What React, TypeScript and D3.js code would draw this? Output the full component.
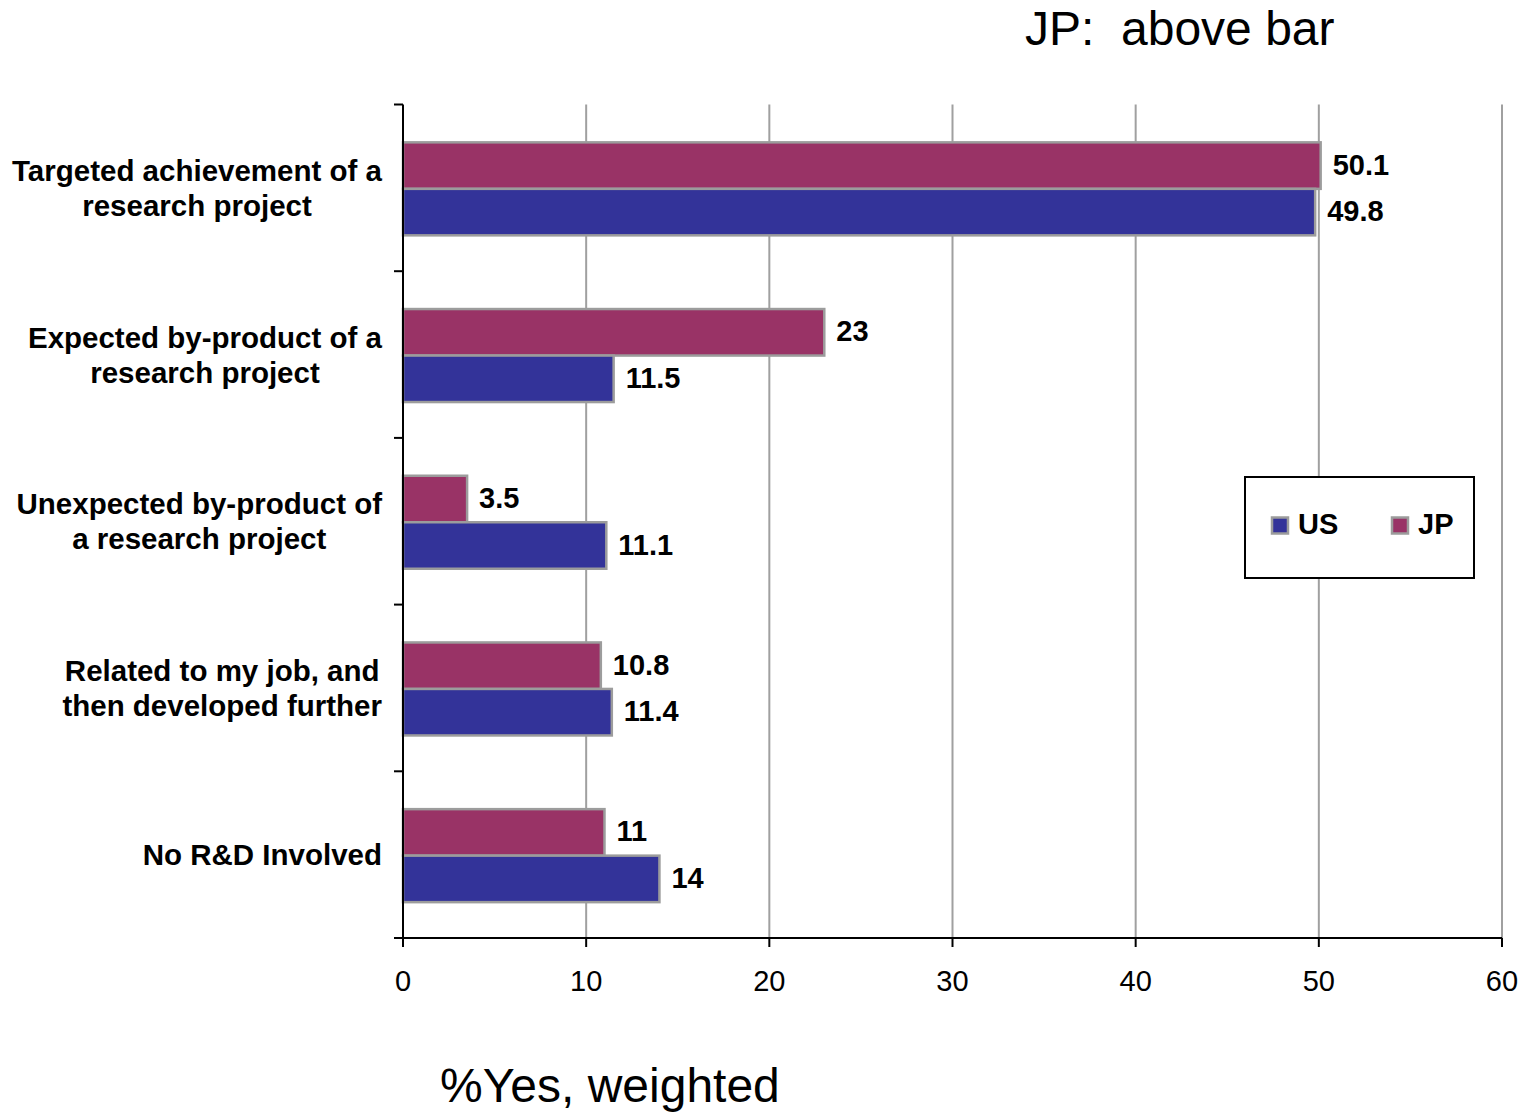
import React, { useEffect, useRef } from 'react';
import * as d3 from 'd3';

// categories, each as the lines it is printed on
const categories: string[][] = [
  ['Targeted achievement of a', 'research project'],
  ['Expected by-product of a', 'research project'],
  ['Unexpected by-product of', 'a research project'],
  ['Related to my job, and', 'then developed further'],
  ['No R&D Involved'],
];
const usValues = [49.8, 11.5, 11.1, 11.4, 14];
const jpValues = [50.1, 23, 3.5, 10.8, 11];
const xTicks = [0, 10, 20, 30, 40, 50, 60];
const seriesNames = ['US', 'JP'];

const US_COLOR = '#333399';
const JP_COLOR = '#993366';
const FONT = '"Liberation Sans", Arial, sans-serif';

const W = 1532;
const H = 1112;

const App: React.FC = () => {
  const svgRef = useRef<SVGSVGElement>(null);

  useEffect(() => {
    if (!svgRef.current) return;
    const svg = d3.select(svgRef.current);
    svg.selectAll('*').remove();

    const left = 403;
    const right = 1502;
    const top = 104.5;
    const bottom = 938;

    const x = d3.scaleLinear().domain([0, 60]).range([left, right]);
    const keys = categories.map((c, i) => String(i));
    const y = d3.scaleBand<string>().domain(keys).range([top, bottom]).padding(0);
    const bh = 46.5;

    // Grid lines
    svg.append('g')
      .selectAll('line')
      .data(xTicks.filter(d => d > 0))
      .enter().append('line')
      .attr('x1', d => x(d)).attr('x2', d => x(d))
      .attr('y1', top).attr('y2', bottom)
      .attr('stroke', '#a0a0a0')
      .attr('stroke-width', 2);

    // Bars
    const groups = svg.append('g')
      .selectAll('g')
      .data(keys)
      .enter().append('g')
      .attr('transform', d => `translate(0,${(y(d) || 0) + (y.bandwidth() - 2 * bh) / 2 + 1})`);

    groups.each(function (k, i) {
      const g = d3.select(this);
      const rows = [
        { v: jpValues[i], c: JP_COLOR, off: 0 },
        { v: usValues[i], c: US_COLOR, off: bh },
      ];
      rows.forEach(r => {
        g.append('rect')
          .attr('x', x(0))
          .attr('y', r.off)
          .attr('width', x(r.v) - x(0))
          .attr('height', bh)
          .attr('fill', r.c)
          .attr('stroke', '#9c9c9c')
          .attr('stroke-width', 2.5);
        g.append('text')
          .attr('x', x(r.v) + 12)
          .attr('y', r.off + bh / 2 - 1)
          .attr('dominant-baseline', 'central')
          .style('font-family', FONT)
          .style('font-weight', 'bold')
          .style('font-size', '29px')
          .style('fill', '#000')
          .text(String(r.v));
      });
    });

    // Axes
    const axis = svg.append('g').attr('stroke', '#000').attr('stroke-width', 2);
    axis.append('line').attr('x1', left).attr('x2', left).attr('y1', top).attr('y2', bottom);
    axis.append('line').attr('x1', left - 9).attr('x2', right).attr('y1', bottom).attr('y2', bottom);
    // y ticks at category boundaries
    const bounds = keys.map(k => y(k) || 0).concat([bottom]);
    axis.selectAll('.yt')
      .data(bounds)
      .enter().append('line')
      .attr('class', 'yt')
      .attr('x1', left - 9).attr('x2', left)
      .attr('y1', d => d).attr('y2', d => d);
    // x ticks
    axis.selectAll('.xt')
      .data(xTicks)
      .enter().append('line')
      .attr('class', 'xt')
      .attr('x1', d => x(d)).attr('x2', d => x(d))
      .attr('y1', bottom).attr('y2', bottom + 9);

    svg.append('g')
      .selectAll('text')
      .data(xTicks)
      .enter().append('text')
      .attr('x', d => x(d))
      .attr('y', 991)
      .attr('text-anchor', 'middle')
      .style('font-family', FONT)
      .style('font-size', '29px')
      .style('fill', '#000')
      .text(d => String(d));

    // Category labels: block right-aligned, lines centred within block
    const labelRight = 382;
    const lineGap = 35;
    categories.forEach((lines, i) => {
      const cy = (y(String(i)) || 0) + y.bandwidth() / 2;
      const g = svg.append('g');
      const texts = lines.map((ln, j) =>
        g.append('text')
          .attr('y', cy + 10.5 + (j - (lines.length - 1) / 2) * lineGap)
          .attr('text-anchor', 'middle')
          .style('font-family', FONT)
          .style('font-weight', 'bold')
          .style('font-size', '29.5px')
          .style('fill', '#000')
          .text(ln)
      );
      const maxW = d3.max(texts, t => (t.node() as SVGTextElement).getComputedTextLength()) || 0;
      texts.forEach(t => t.attr('x', labelRight - maxW / 2));
    });

    // Legend
    const lg = svg.append('g');
    lg.append('rect')
      .attr('x', 1245).attr('y', 477)
      .attr('width', 229).attr('height', 101)
      .attr('fill', '#fff')
      .attr('stroke', '#000')
      .attr('stroke-width', 2);
    const legendX = [1272, 1392];
    const legendColors = [US_COLOR, JP_COLOR];
    seriesNames.forEach((name, i) => {
      lg.append('rect')
        .attr('x', legendX[i]).attr('y', 517.5)
        .attr('width', 16).attr('height', 16)
        .attr('fill', legendColors[i])
        .attr('stroke', '#9c9c9c')
        .attr('stroke-width', 2.5);
      lg.append('text')
        .attr('x', legendX[i] + 26)
        .attr('y', 534)
        .style('font-family', FONT)
        .style('font-weight', 'bold')
        .style('font-size', '29px')
        .style('fill', '#000')
        .text(name);
    });

    // Titles
    svg.append('text')
      .attr('x', 1025).attr('y', 45)
      .style('font-family', FONT)
      .style('font-size', '48px')
      .style('fill', '#000')
      .style('white-space', 'pre')
      .attr('xml:space', 'preserve')
      .text('JP:  above bar');

    svg.append('text')
      .attr('x', 440).attr('y', 1102)
      .style('font-family', FONT)
      .style('font-size', '48px')
      .style('fill', '#000')
      .text('%Yes, weighted');
  }, []);

  return (
    <svg
      ref={svgRef}
      width={W}
      height={H}
      style={{ position: 'absolute', left: 0, top: 0, background: '#fff' }}
    />
  );
};

export default App;
